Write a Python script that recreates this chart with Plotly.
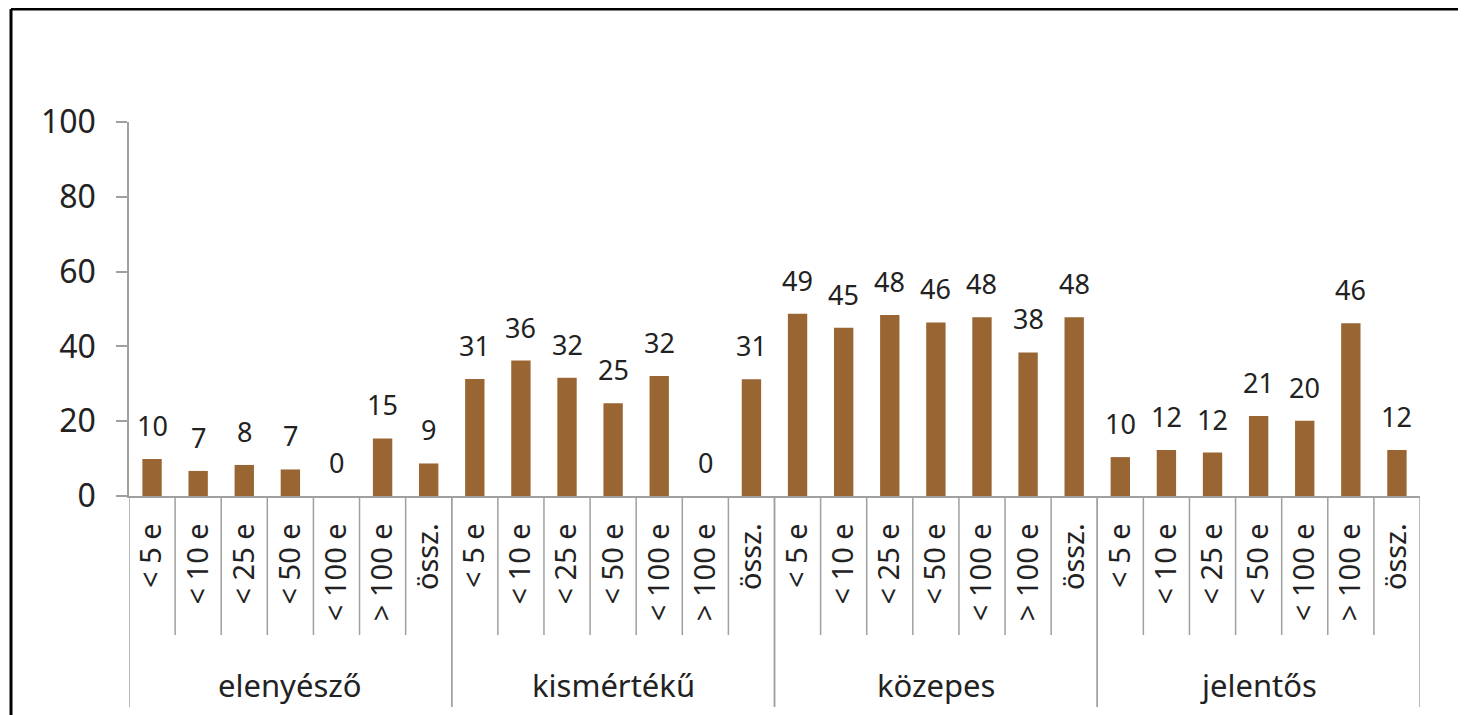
import plotly.graph_objects as go

groups = ["elenyésző", "kismértékű", "közepes", "jelentős"]
sizes = ["< 5 e", "< 10 e", "< 25 e", "< 50 e", "< 100 e", "> 100 e", "össz."]

elenyeszo = [9.9, 6.7, 8.3, 7.1, 0, 15.4, 8.7]
kismerteku = [31.3, 36.2, 31.6, 24.8, 32.1, 0, 31.2]
kozepes = [48.7, 45.0, 48.4, 46.4, 47.8, 38.4, 47.8]
jelentos = [10.4, 12.3, 11.6, 21.4, 20.1, 46.2, 12.3]

series = [elenyeszo, kismerteku, kozepes, jelentos]

values = [v for s in series for v in s]
labels = [lab for _ in groups for lab in sizes]
xpos = list(range(len(values)))

FONT = "Noto Sans"
BAR = "rgb(153,102,51)"
GRID = "rgb(160,160,160)"

# page has an 8px body margin, so the figure starts at (8, 8) on screen
OFF = 8
W, H = 1466 - OFF, 715 - OFF
# plot area in figure pixels (screen x 129..1420, y 122..496)
L, R, T, B = 129 - OFF, 1420 - OFF, 122 - OFF, 496 - OFF
pw, ph = R - L, B - T


def px_x(p):
    return (p - OFF - L) / pw


def px_y(p):
    return (B - (p - OFF)) / ph


fig = go.Figure(go.Bar(
    x=xpos, y=values, width=0.42,
    marker=dict(color=BAR, line=dict(width=0)),
    hoverinfo="x+y",
))

ann = []
for i, v in enumerate(values):
    ann.append(dict(x=i, y=v, text=str(round(v)), showarrow=False,
                    xref="x", yref="y", yanchor="bottom", yshift=13,
                    font=dict(family=FONT, size=27, color="#222")))

n = len(sizes)
shapes = []
for g, name in enumerate(groups):
    ann.append(dict(x=g * n + (n - 1) / 2, y=px_y(685), text=name, showarrow=False,
                    xref="x", yref="paper", yanchor="middle",
                    font=dict(family=FONT, size=31, color="#222")))
    for k in range(n + 1):
        xb = g * n + k - 0.5
        bottom = 707 if k in (0, n) else 635
        shapes.append(dict(type="line", xref="x", yref="paper", x0=xb, x1=xb,
                           y0=0, y1=px_y(bottom), line=dict(color=GRID, width=1.5)))

# outer frame (left and top edges visible)
shapes.append(dict(type="line", xref="paper", yref="paper",
                   x0=px_x(11), x1=px_x(11), y0=px_y(9), y1=px_y(760),
                   line=dict(color="black", width=3)))
shapes.append(dict(type="line", xref="paper", yref="paper",
                   x0=px_x(11), x1=px_x(1500), y0=px_y(9), y1=px_y(9),
                   line=dict(color="black", width=3)))

fig.update_layout(
    width=W, height=H,
    margin=dict(l=L, r=W - R, t=T, b=H - B),
    plot_bgcolor="white", paper_bgcolor="white",
    showlegend=False,
    annotations=ann, shapes=shapes,
    xaxis=dict(range=[-0.5, len(values) - 0.5], tickvals=xpos, ticktext=labels,
               tickangle=-90, ticks="", showgrid=False, zeroline=False,
               showline=True, linecolor=GRID, linewidth=1.5,
               tickfont=dict(family=FONT, size=29, color="#222"),
               ticklabelstandoff=14),
    yaxis=dict(range=[0, 100], dtick=20, showgrid=False, zeroline=False,
               showline=True, linecolor=GRID, linewidth=1.5,
               ticks="outside", ticklen=11, tickcolor=GRID, tickwidth=1.5,
               tickfont=dict(family=FONT, size=32, color="#222"),
               ticklabelstandoff=14),
)

fig.write_html("out.html")
